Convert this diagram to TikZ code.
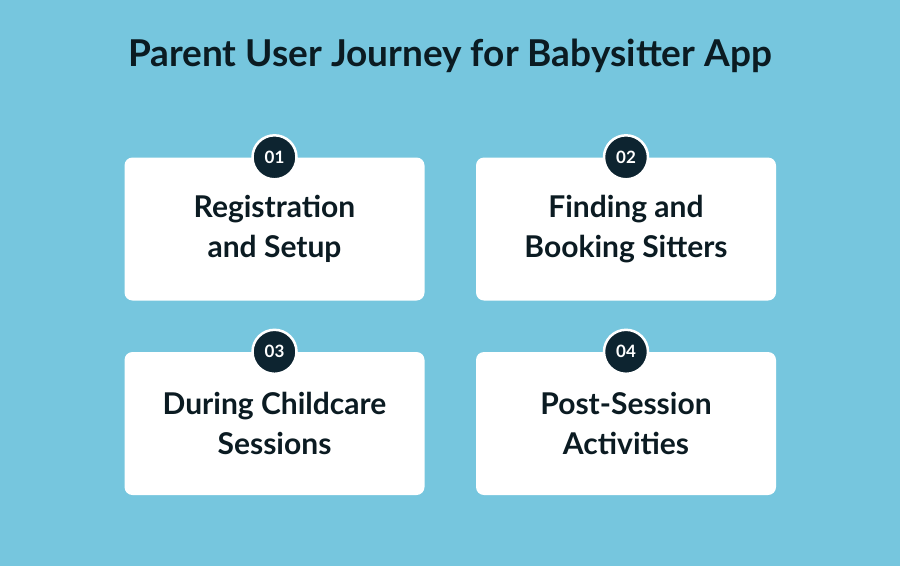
\documentclass[tikz,border=0pt]{standalone}
\usepackage{fontspec}
\setmainfont{Lato}
\usetikzlibrary{positioning}
\definecolor{bgblue}{HTML}{76C6DE}
\definecolor{badge}{HTML}{0D2430}
\definecolor{inktext}{HTML}{0B1B22}
\tikzset{
  step box/.style={fill=white, rounded corners=8pt, minimum width=300pt, minimum height=143pt,
    align=center, font=\bfseries\fontsize{30}{40}\selectfont, text=inktext},
  step num/.style={circle, fill=badge, draw=white, line width=2.5pt, minimum size=44pt,
    text=white, font=\bfseries\fontsize{17}{20}\selectfont, inner sep=0pt}
}
\begin{document}
\begin{tikzpicture}[x=1pt,y=-1pt]
  \fill[bgblue] (0,0) rectangle (900,566);
  \useasboundingbox (0,0) rectangle (900,566);
  \node[font=\bfseries\fontsize{37}{44}\selectfont, text=inktext] (title) at (450,56) {Parent User Journey for Babysitter App};

  \node[step box] (reg) at (274.5,229) {Registration\\and Setup};
  \node[step box] (find) at (626,229) {Finding and\\Booking Sitters};
  \node[step box] (dur) at (274.5,423.5) {During Childcare\\Sessions};
  \node[step box] (post) at (626,423.5) {Post-Session\\Activities};

  \node[step num] (n1) at (reg.north) {01};
  \node[step num] (n2) at (find.north) {02};
  \node[step num] (n3) at (dur.north) {03};
  \node[step num] (n4) at (post.north) {04};
\end{tikzpicture}
\end{document}
